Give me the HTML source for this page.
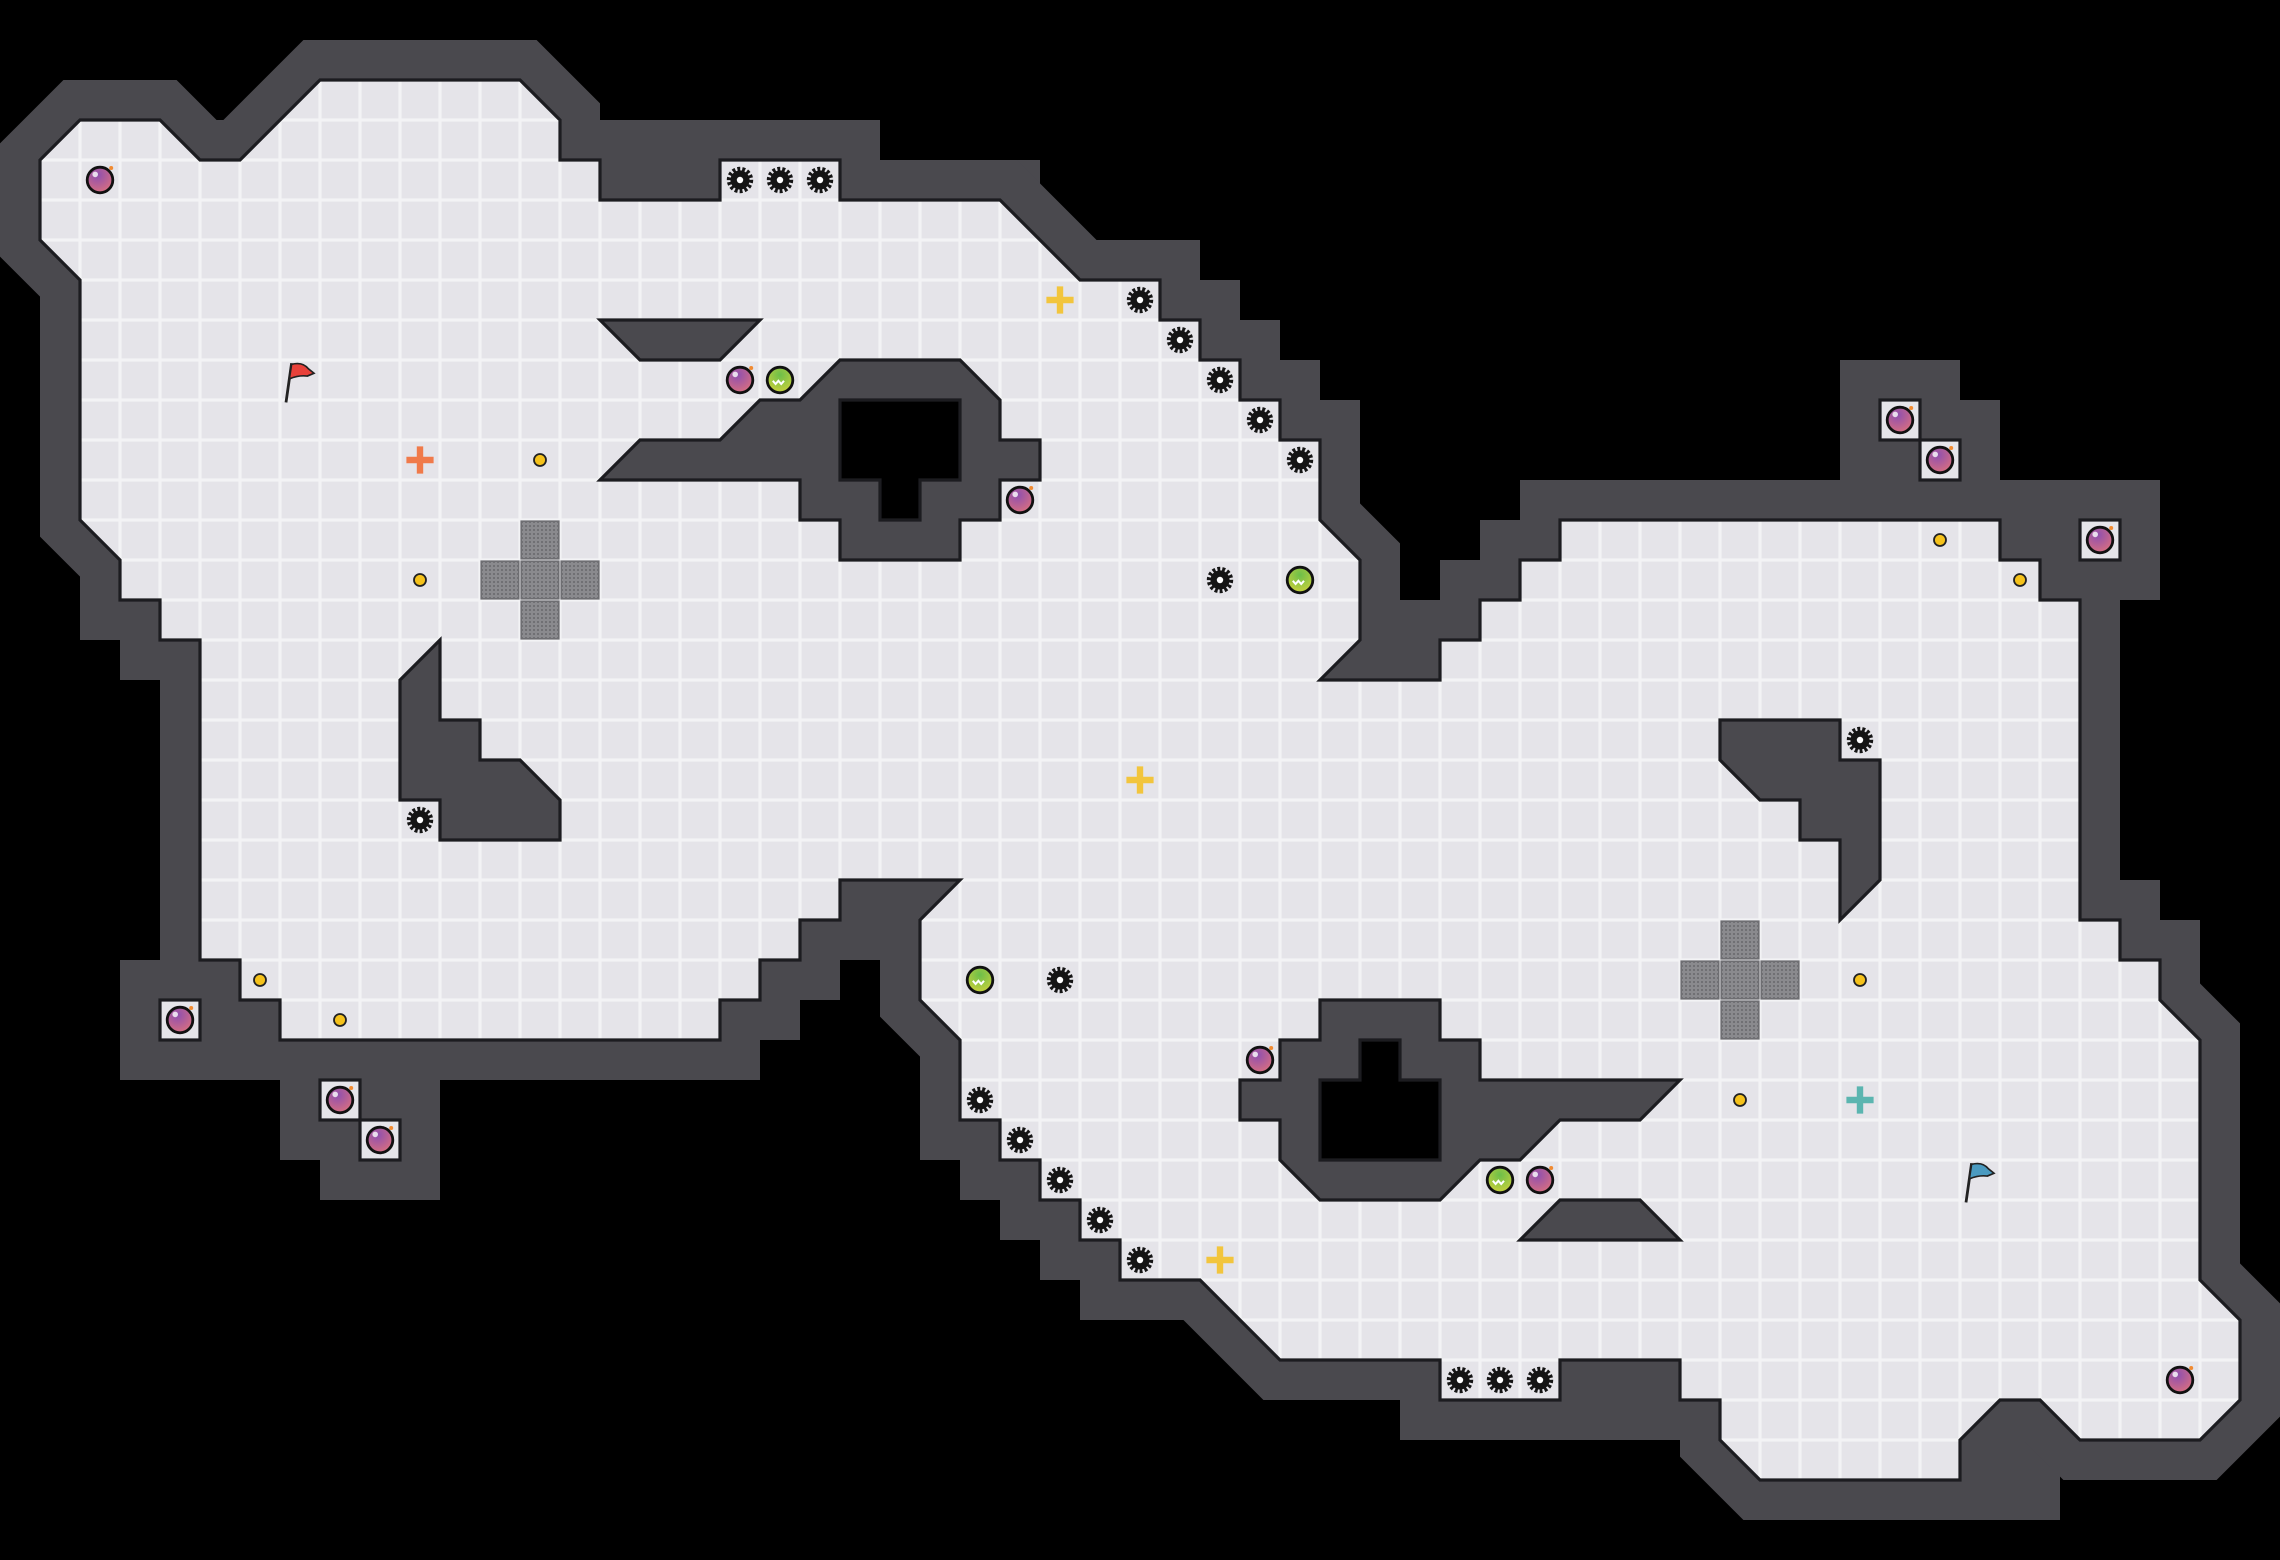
<!DOCTYPE html>
<html><head><meta charset="utf-8"><style>html,body{margin:0;padding:0;background:#000;}svg{display:block}</style></head>
<body>
<svg width="2280" height="1560" viewBox="0 0 57 39" xmlns="http://www.w3.org/2000/svg">
<defs>
<pattern id="tile" width="1" height="1" patternUnits="userSpaceOnUse">
<rect width="1" height="1" fill="#f3f3f5"/>
<rect x="0.04" y="0.04" width="0.92" height="0.92" fill="#e5e4e9"/>
</pattern>
<pattern id="dots" width="0.1" height="0.1" patternUnits="userSpaceOnUse">
<rect width="0.1" height="0.1" fill="#8a8a8e"/>
<circle cx="0.05" cy="0.05" r="0.022" fill="#5c5c60"/>
</pattern>
<radialGradient id="pg" cx="0.4" cy="0.3" r="0.8"><stop offset="0" stop-color="#8e4fb0"/><stop offset="1" stop-color="#e0727a"/></radialGradient>
<radialGradient id="gg" cx="0.5" cy="0.3" r="0.8"><stop offset="0" stop-color="#6cbf4a"/><stop offset="1" stop-color="#d6d33a"/></radialGradient>
<g id="orb"><circle r="0.32" fill="url(#pg)" stroke="#111" stroke-width="0.07"/><circle cx="-0.12" cy="-0.14" r="0.07" fill="#fff" opacity="0.8"/><circle cx="0.28" cy="-0.3" r="0.05" fill="#f08a30"/></g>
<g id="gorb"><circle r="0.32" fill="url(#gg)" stroke="#111" stroke-width="0.07"/><path d="M-0.18 0.02 l0.07 0.08 l0.07 -0.08 l0.07 0.08 l0.07 -0.08" fill="none" stroke="#fff" stroke-width="0.05"/></g>
<g id="gear"><circle r="0.27" fill="none" stroke="#151515" stroke-width="0.12" stroke-dasharray="0.07 0.05"/><circle r="0.24" fill="#151515"/><circle r="0.08" fill="#fff"/></g>
<g id="coin"><circle r="0.15" fill="#f5c21b" stroke="#222" stroke-width="0.045"/></g>
<g id="gplus"><path d="M-0.08 -0.34h0.16v0.26h0.26v0.16h-0.26v0.26h-0.16v-0.26h-0.26v-0.16h0.26z" fill="#f2c53d"/></g>
<g id="grate"><rect x="0.03" y="0.03" width="0.94" height="0.94" fill="url(#dots)" stroke="#6e6e72" stroke-width="0.04"/></g>
</defs>
<rect width="57" height="39" fill="#000"/>
<g fill="#4a494e">
<rect x="15" y="3" width="7" height="1.2"/>
<rect x="22" y="4" width="4" height="1.2"/>
<rect x="3" y="24" width="3" height="3"/>
<rect x="7" y="26" width="4" height="3"/>
<rect x="8" y="28" width="3" height="2"/>
<rect x="46" y="9" width="3" height="4.2"/>
<rect x="48" y="10" width="2" height="3.2"/>
<rect x="50" y="12" width="4" height="3"/>
<rect x="39.5" y="34.5" width="2" height="1.5"/>
<rect x="49" y="35.5" width="2.5" height="2.5"/>
<rect x="5" y="3" width="1" height="1"/>
</g>
<polygon points="8,2 13,2 14,3 14,4 15,4 15,5 18,5 18,4 21,4 21,5 25,5 27,7 29,7 29,8 30,8 30,9 31,9 31,10 32,10 32,11 33,11 33,13 34,14 34,16 33,17 36,17 36,16 37,16 37,15 38,15 38,14 39,14 39,13 50,13 50,14 51,14 51,15 52,15 52,23 53,23 53,24 54,24 54,25 55,26 55,32 56,33 56,35 55,36 52,36 51,35 50,35 49,36 49,37 44,37 43,36 43,35 42,35 42,34 39,34 39,35 36,35 36,34 32,34 30,32 28,32 28,31 27,31 27,30 26,30 26,29 25,29 25,28 24,28 24,26 23,25 23,23 24,22 21,22 21,23 20,23 20,24 19,24 19,25 18,25 18,26 7,26 7,25 6,25 6,24 5,24 5,16 4,16 4,15 3,15 3,14 2,13 2,7 1,6 1,4 2,3 4,3 5,4 6,4" fill="none" stroke="#4a494e" stroke-width="2" stroke-linejoin="miter"/>
<polygon points="8,2 13,2 14,3 14,4 15,4 15,5 18,5 18,4 21,4 21,5 25,5 27,7 29,7 29,8 30,8 30,9 31,9 31,10 32,10 32,11 33,11 33,13 34,14 34,16 33,17 36,17 36,16 37,16 37,15 38,15 38,14 39,14 39,13 50,13 50,14 51,14 51,15 52,15 52,23 53,23 53,24 54,24 54,25 55,26 55,32 56,33 56,35 55,36 52,36 51,35 50,35 49,36 49,37 44,37 43,36 43,35 42,35 42,34 39,34 39,35 36,35 36,34 32,34 30,32 28,32 28,31 27,31 27,30 26,30 26,29 25,29 25,28 24,28 24,26 23,25 23,23 24,22 21,22 21,23 20,23 20,24 19,24 19,25 18,25 18,26 7,26 7,25 6,25 6,24 5,24 5,16 4,16 4,15 3,15 3,14 2,13 2,7 1,6 1,4 2,3 4,3 5,4 6,4" fill="url(#tile)" stroke="#1c1c20" stroke-width="0.08"/>
<g fill="url(#tile)" stroke="#1c1c20" stroke-width="0.08">
<rect x="4" y="25" width="1" height="1"/>
<rect x="8" y="27" width="1" height="1"/>
<rect x="9" y="28" width="1" height="1"/>
<rect x="47" y="10" width="1" height="1"/>
<rect x="48" y="11" width="1" height="1"/>
<rect x="52" y="13" width="1" height="1"/>
</g>
<g fill="#4a494e" stroke="#1c1c20" stroke-width="0.08">
<polygon points="15,8 19,8 18,9 16,9"/>
<polygon points="15,12 16,11 18,11 19,10 20,10 21,9 24,9 25,10 25,11 26,11 26,12 25,12 25,13 24,13 24,14 21,14 21,13 20,13 20,12"/>
<polygon points="11,16 11,18 12,18 12,19 13,19 14,20 14,21 11,21 11,20 10,20 10,17"/>
<polygon points="43,18 46,18 46,19 47,19 47,22 46,23 46,21 45,21 45,20 44,20 43,19"/>
<polygon points="33,25 36,25 36,26 37,26 37,27 42,27 41,28 39,28 38,29 37,29 36,30 33,30 32,29 32,28 31,28 31,27 32,27 32,26 33,26"/>
<polygon points="39,30 41,30 42,31 38,31"/>
</g>
<g fill="#000" stroke="#1c1c20" stroke-width="0.08">
<polygon points="21,10 24,10 24,12 23,12 23,13 22,13 22,12 21,12"/>
<polygon points="33,27 34,27 34,26 35,26 35,27 36,27 36,29 33,29"/>
</g>
<g>
<use href="#grate" x="13" y="13"/><use href="#grate" x="12" y="14"/><use href="#grate" x="13" y="14"/><use href="#grate" x="14" y="14"/><use href="#grate" x="13" y="15"/>
<use href="#grate" x="43" y="23"/><use href="#grate" x="42" y="24"/><use href="#grate" x="43" y="24"/><use href="#grate" x="44" y="24"/><use href="#grate" x="43" y="25"/>
</g>
<g>
<use href="#orb" x="2.5" y="4.5"/><use href="#orb" x="18.5" y="9.5"/><use href="#orb" x="25.5" y="12.5"/><use href="#orb" x="4.5" y="25.5"/><use href="#orb" x="8.5" y="27.5"/><use href="#orb" x="9.5" y="28.5"/><use href="#orb" x="47.5" y="10.5"/><use href="#orb" x="48.5" y="11.5"/><use href="#orb" x="52.5" y="13.5"/><use href="#orb" x="31.5" y="26.5"/><use href="#orb" x="38.5" y="29.5"/><use href="#orb" x="54.5" y="34.5"/>
<use href="#gorb" x="19.5" y="9.5"/><use href="#gorb" x="32.5" y="14.5"/><use href="#gorb" x="24.5" y="24.5"/><use href="#gorb" x="37.5" y="29.5"/>
<use href="#gear" x="18.5" y="4.5"/><use href="#gear" x="19.5" y="4.5"/><use href="#gear" x="20.5" y="4.5"/><use href="#gear" x="28.5" y="7.5"/><use href="#gear" x="29.5" y="8.5"/><use href="#gear" x="30.5" y="9.5"/><use href="#gear" x="31.5" y="10.5"/><use href="#gear" x="32.5" y="11.5"/><use href="#gear" x="30.5" y="14.5"/><use href="#gear" x="10.5" y="20.5"/><use href="#gear" x="26.5" y="24.5"/><use href="#gear" x="46.5" y="18.5"/><use href="#gear" x="24.5" y="27.5"/><use href="#gear" x="25.5" y="28.5"/><use href="#gear" x="26.5" y="29.5"/><use href="#gear" x="27.5" y="30.5"/><use href="#gear" x="28.5" y="31.5"/><use href="#gear" x="36.5" y="34.5"/><use href="#gear" x="37.5" y="34.5"/><use href="#gear" x="38.5" y="34.5"/>
<use href="#coin" x="13.5" y="11.5"/><use href="#coin" x="10.5" y="14.5"/><use href="#coin" x="6.5" y="24.5"/><use href="#coin" x="8.5" y="25.5"/><use href="#coin" x="48.5" y="13.5"/><use href="#coin" x="50.5" y="14.5"/><use href="#coin" x="46.5" y="24.5"/><use href="#coin" x="43.5" y="27.5"/>
<use href="#gplus" x="26.5" y="7.5"/><use href="#gplus" x="28.5" y="19.5"/><use href="#gplus" x="30.5" y="31.5"/>
<g transform="translate(10.5 11.5)"><path d="M-0.08 -0.34h0.16v0.26h0.26v0.16h-0.26v0.26h-0.16v-0.26h-0.26v-0.16h0.26z" fill="#f07a4a"/></g>
<g transform="translate(46.5 27.5)"><path d="M-0.08 -0.34h0.16v0.26h0.26v0.16h-0.26v0.26h-0.16v-0.26h-0.26v-0.16h0.26z" fill="#5bb5b0"/></g>
<g transform="translate(7.5 9.5) scale(1.4)"><line x1="-0.25" y1="0.4" x2="-0.15" y2="-0.3" stroke="#222" stroke-width="0.05"/><path d="M-0.15 -0.28 q0.2 -0.05 0.3 0.08 l0.1 0.08 l-0.12 0.05 q-0.15 -0.02 -0.32 0.05z" fill="#e8413a" stroke="#222" stroke-width="0.03"/></g>
<g transform="translate(49.5 29.5) scale(1.4)"><line x1="-0.25" y1="0.4" x2="-0.15" y2="-0.3" stroke="#222" stroke-width="0.05"/><path d="M-0.15 -0.28 q0.2 -0.05 0.3 0.08 l0.1 0.08 l-0.12 0.05 q-0.15 -0.02 -0.32 0.05z" fill="#4a9ac0" stroke="#222" stroke-width="0.03"/></g>
</g>
</svg>
</body></html>
